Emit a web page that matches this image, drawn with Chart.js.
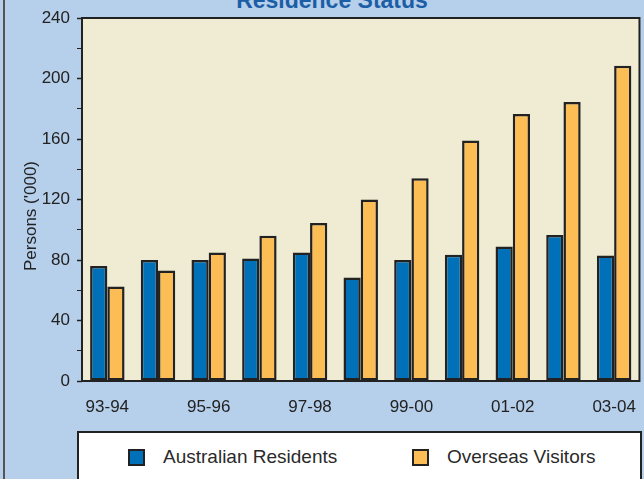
<!DOCTYPE html>
<html lang="en">
<head>
    <meta charset="UTF-8">
    <title>Residence Status</title>
    <script src="https://cdn.jsdelivr.net/npm/chart.js"></script>
    <style>
        body {
            margin: 0;
            background-color: #b6cfeb;
            width: 644px;
            height: 479px;
            overflow: hidden;
            position: relative;
            font-family: "Liberation Sans", Arial, sans-serif;
        }

        .frame-line {
            position: absolute;
            left: 3px;
            top: 0;
            width: 2px;
            height: 479px;
            background-color: #555;
        }

        .title {
            position: absolute;
            left: 0;
            top: -11px;
            width: 664px;
            text-align: center;
            font-size: 23px;
            line-height: 23px;
            font-weight: bold;
            color: #1c5ea6;
        }

        #chart {
            position: absolute;
            left: 0;
            top: 0;
        }

        .legend {
            position: absolute;
            left: 77px;
            top: 431px;
            width: 565px;
            height: 80px;
            background: white;
            border: 2px solid #222;
            box-sizing: border-box;
        }

        .legend-item {
            position: absolute;
            top: 13px;
            height: 22px;
            display: flex;
            align-items: center;
            font-size: 19px;
            color: #2a2a2a;
        }

        .legend-item .box {
            width: 13px;
            height: 13px;
            border: 2px solid #222;
            margin-right: 18px;
        }
    </style>
</head>

<body>
    <div class="frame-line"></div>
    <div class="title">Residence Status</div>
    <canvas id="chart" width="644" height="479"></canvas>
    <div class="legend" id="legend"></div>

    <script>
        // Financial years and persons ('000)
        const seasons = ['93-94', '94-95', '95-96', '96-97', '97-98', '98-99', '99-00', '00-01', '01-02', '02-03', '03-04'];
        const residents = [76, 80, 80, 81, 85, 68.5, 80, 83.5, 89, 96.5, 83];
        const visitors = [62.5, 73, 85, 96, 104.5, 120, 134, 159, 176.5, 184.5, 208.5];
        const yTicks = [0, 40, 80, 120, 160, 200, 240];

        const blue = '#0071b9';
        const orange = '#fdbd55';
        const ink = '#222';

        // beige plot background and the dark frame around it
        const plotFrame = {
            id: 'plotFrame',
            beforeDraw(chart) {
                const a = chart.chartArea;
                const ctx = chart.ctx;
                ctx.save();
                ctx.fillStyle = '#f0ebd3';
                ctx.fillRect(a.left, a.top, a.right - a.left, a.bottom - a.top);
                ctx.restore();
            },
            afterDatasetsDraw(chart) {
                const a = chart.chartArea;
                const ctx = chart.ctx;
                ctx.save();
                ctx.strokeStyle = ink;
                ctx.lineWidth = 2;
                ctx.strokeRect(a.left, a.top, a.right - a.left, a.bottom - a.top);
                ctx.restore();
            }
        };

        // y axis title, set a bit below the middle of the axis
        const yTitle = {
            id: 'yTitle',
            afterDraw(chart) {
                const ctx = chart.ctx;
                ctx.save();
                ctx.translate(31, 216);
                ctx.rotate(-Math.PI / 2);
                ctx.font = '17px "Liberation Sans", Arial, sans-serif';
                ctx.fillStyle = ink;
                ctx.textAlign = 'center';
                ctx.textBaseline = 'middle';
                ctx.fillText("Persons ('000)", 0, 0);
                ctx.restore();
            }
        };

        const datasets = [
            { label: 'Australian Residents', data: residents, backgroundColor: blue },
            { label: 'Overseas Visitors', data: visitors, backgroundColor: orange }
        ].map(d => Object.assign(d, {
            borderColor: ink,
            borderWidth: 2.5,
            borderSkipped: false,
            categoryPercentage: 0.68,
            barPercentage: 1
        }));

        const tickFont = { family: '"Liberation Sans", Arial, sans-serif', size: 17 };

        new Chart(document.getElementById('chart'), {
            type: 'bar',
            data: { labels: seasons, datasets: datasets },
            options: {
                responsive: false,
                animation: false,
                layout: { padding: { top: 18, right: 3, left: 0, bottom: 0 } },
                plugins: {
                    legend: { display: false },
                    tooltip: { enabled: false }
                },
                scales: {
                    x: {
                        afterFit: s => { s.height = 98; },
                        grid: { display: false },
                        border: { display: false },
                        ticks: {
                            autoSkip: false,
                            maxRotation: 0,
                            padding: 8,
                            color: ink,
                            font: tickFont,
                            callback: (v, i) => i % 2 === 0 ? seasons[i] : ''
                        }
                    },
                    y: {
                        min: 0,
                        max: 240,
                        afterFit: s => { s.width = 82; },
                        grid: {
                            drawOnChartArea: false,
                            tickLength: 5,
                            tickColor: ink,
                            tickWidth: c => yTicks.includes(c.tick.value) ? 1.5 : 1
                        },
                        border: { display: false },
                        ticks: {
                            stepSize: 20,
                            padding: 7,
                            color: ink,
                            font: tickFont,
                            callback: v => yTicks.includes(v) ? v : ''
                        }
                    }
                }
            },
            plugins: [plotFrame, yTitle]
        });

        // legend built from the dataset labels and colours
        const legend = document.getElementById('legend');
        const legendX = [49, 333];
        datasets.forEach((d, i) => {
            const item = document.createElement('div');
            item.className = 'legend-item';
            item.style.left = legendX[i] + 'px';
            item.innerHTML = `<span class="box" style="background:${d.backgroundColor}"></span><span>${d.label}</span>`;
            legend.appendChild(item);
        });
    </script>
</body>
</html>
